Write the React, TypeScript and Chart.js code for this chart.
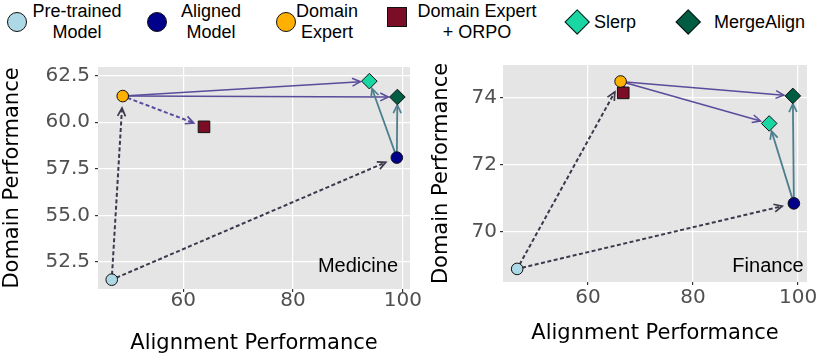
import React, { useEffect, useRef } from 'react';
import { Chart, registerables } from 'chart.js';

Chart.register(...registerables);

// ---- data ----
const modelNames = ['Pre-trained Model', 'Aligned Model', 'Domain Expert', 'Domain Expert + ORPO', 'Slerp', 'MergeAlign'];
const legendLines = [['Pre-trained', 'Model'], ['Aligned', 'Model'], ['Domain', 'Expert'], ['Domain Expert', '+ ORPO'], ['Slerp'], ['MergeAlign']];
const modelColors = ['#add8e6', '#00008b', '#ffb000', '#7b0d26', '#19d6a3', '#005c42'];
const modelShapes = ['circle', 'circle', 'circle', 'rect', 'rectRot', 'rectRot'];

const medicineAlignment = [47.0, 98.9, 49.0, 63.8, 93.9, 99.0];
const medicineDomain = [51.55, 58.1, 61.4, 59.75, 62.2, 61.35];
const financeAlignment = [46.5, 99.2, 66.2, 66.7, 94.5, 99.0];
const financeDomain = [68.9, 70.85, 74.48, 74.14, 73.23, 74.05];

const medicineXTicks = [60, 80, 100];
const medicineYTicks = [52.5, 55, 57.5, 60, 62.5];
const financeXTicks = [60, 80, 100];
const financeYTicks = [70, 72, 74];

const arrowFrom = [0, 0, 2, 2, 2, 1, 1];
const arrowTo = [2, 1, 3, 4, 5, 4, 5];
const arrowKinds = ['dashDark', 'dashDark', 'dashPurple', 'purple', 'purple', 'teal', 'teal'];

// ---- styles ----
const arrowStyles: Record<string, { color: string; width: number; dash: number[]; shrink: number }> = {
  dashDark: { color: '#3a3a4c', width: 2, dash: [4, 2.5], shrink: 12 },
  dashPurple: { color: '#5b4b9b', width: 2, dash: [4, 2.5], shrink: 11 },
  purple: { color: '#5b4b9b', width: 1.5, dash: [], shrink: 9 },
  teal: { color: '#4d7f8e', width: 1.8, dash: [], shrink: 8 },
};
const pointRadii: Record<string, number> = { circle: 5.8, rect: 8.2, rectRot: 7.8 };
const AXIS_FONT = "'DejaVu Sans', sans-serif";
const LABEL_FONT = "'Liberation Sans', Arial, Helvetica, sans-serif";

type PanelCfg = {
  xs: number[];
  ys: number[];
  xTicks: number[];
  yTicks: number[];
  xMin: number; xMax: number; yMin: number; yMax: number;
  yDecimals: number;
  label: string;
  labelRight: number; labelUp: number;
  padTop: number; padRight: number;
  yAxisWidth: number; yTitlePad: number; yTickPad: number;
  xAxisHeight: number; xTitlePad: number; xTickPad: number;
};

function makePanel(canvas: HTMLCanvasElement, cfg: PanelCfg) {
  const plugin = {
    id: 'panelDeco',
    beforeDraw(chart: any) {
      const { ctx, chartArea: a } = chart;
      ctx.save();
      ctx.fillStyle = '#e5e5e5';
      ctx.fillRect(a.left, a.top, a.right - a.left, a.bottom - a.top);
      ctx.restore();
    },
    beforeDatasetsDraw(chart: any) {
      const { ctx } = chart;
      const xs = chart.scales.x;
      const ys = chart.scales.y;
      ctx.save();
      for (let i = 0; i < arrowFrom.length; i++) {
        const s = arrowStyles[arrowKinds[i]];
        const f = arrowFrom[i];
        const t = arrowTo[i];
        const x0 = xs.getPixelForValue(cfg.xs[f]);
        const y0 = ys.getPixelForValue(cfg.ys[f]);
        const x1 = xs.getPixelForValue(cfg.xs[t]);
        const y1 = ys.getPixelForValue(cfg.ys[t]);
        const dx = x1 - x0;
        const dy = y1 - y0;
        const len = Math.hypot(dx, dy);
        if (len < 1) continue;
        const ux = dx / len;
        const uy = dy / len;
        const sx = x0 + ux * 5;
        const sy = y0 + uy * 5;
        const ex = x1 - ux * s.shrink;
        const ey = y1 - uy * s.shrink;
        ctx.strokeStyle = s.color;
        ctx.lineWidth = s.width;
        ctx.lineCap = 'butt';
        ctx.setLineDash(s.dash);
        ctx.beginPath();
        ctx.moveTo(sx, sy);
        ctx.lineTo(ex, ey);
        ctx.stroke();
        // open arrow head
        ctx.setLineDash([]);
        ctx.lineWidth = Math.min(s.width, 1.7);
        const ang = Math.atan2(ey - sy, ex - sx);
        const hl = 9;
        const ha = 0.45;
        ctx.beginPath();
        ctx.moveTo(ex - hl * Math.cos(ang - ha), ey - hl * Math.sin(ang - ha));
        ctx.lineTo(ex, ey);
        ctx.lineTo(ex - hl * Math.cos(ang + ha), ey - hl * Math.sin(ang + ha));
        ctx.stroke();
      }
      ctx.restore();
    },
    afterDatasetsDraw(chart: any) {
      const { ctx, chartArea: a } = chart;
      ctx.save();
      ctx.fillStyle = '#000';
      ctx.font = `20px ${LABEL_FONT}`;
      ctx.textAlign = 'right';
      ctx.textBaseline = 'middle';
      ctx.fillText(cfg.label, a.right - cfg.labelRight, a.bottom - cfg.labelUp);
      ctx.restore();
    },
  };

  const datasets = modelNames.map((name, i) => ({
    label: name,
    data: [{ x: cfg.xs[i], y: cfg.ys[i] }],
    pointStyle: modelShapes[i] as any,
    pointRadius: pointRadii[modelShapes[i]],
    pointBackgroundColor: modelColors[i],
    pointBorderColor: '#111',
    pointBorderWidth: 1,
    showLine: false,
  }));

  return new Chart(canvas, {
    type: 'scatter',
    data: { datasets },
    plugins: [plugin],
    options: {
      animation: false,
      responsive: false,
      events: [],
      layout: { padding: { top: cfg.padTop, right: cfg.padRight, left: 0, bottom: 0 } },
      plugins: { legend: { display: false }, tooltip: { enabled: false } },
      scales: {
        x: {
          type: 'linear',
          min: cfg.xMin,
          max: cfg.xMax,
          afterBuildTicks: (axis: any) => { axis.ticks = cfg.xTicks.map((v) => ({ value: v })); },
          afterFit: (scale: any) => { scale.height = cfg.xAxisHeight; },
          grid: { color: '#ffffff', lineWidth: 1.2, tickColor: '#333333', tickLength: 3, drawTicks: true },
          border: { display: false },
          ticks: {
            font: { family: AXIS_FONT, size: 20 },
            color: '#505050',
            padding: cfg.xTickPad,
            maxRotation: 0,
            autoSkip: false,
            callback: (v: any) => String(v),
          },
          title: {
            display: true,
            text: 'Alignment Performance',
            font: { family: AXIS_FONT, size: 21 },
            color: '#000',
            padding: { top: 0, bottom: cfg.xTitlePad },
          },
        },
        y: {
          type: 'linear',
          min: cfg.yMin,
          max: cfg.yMax,
          afterBuildTicks: (axis: any) => { axis.ticks = cfg.yTicks.map((v) => ({ value: v })); },
          afterFit: (scale: any) => { scale.width = cfg.yAxisWidth; },
          grid: { color: '#ffffff', lineWidth: 1.2, tickColor: '#333333', tickLength: 3, drawTicks: true },
          border: { display: false },
          ticks: {
            font: { family: AXIS_FONT, size: 20 },
            color: '#505050',
            padding: cfg.yTickPad,
            autoSkip: false,
            callback: (v: any) => Number(v).toFixed(cfg.yDecimals),
          },
          title: {
            display: true,
            text: 'Domain Performance',
            font: { family: AXIS_FONT, size: 21 },
            color: '#000',
            padding: { top: cfg.yTitlePad, bottom: 0 },
          },
        },
      },
    } as any,
  });
}

// ---- legend (HTML) ----
const legendMarkerX = [17, 157, 286, 397, 577, 688];
const legendMarkerY = [21.5, 21.5, 21.5, 16.5, 22, 22];
const legendTextX = [77, 211, 327, 477, 594, 714];

function LegendMarker({ i }: { i: number }) {
  const shape = modelShapes[i];
  const cx = legendMarkerX[i];
  const cy = legendMarkerY[i];
  const common: React.CSSProperties = {
    position: 'absolute',
    background: modelColors[i],
    border: '1px solid #111',
    boxSizing: 'border-box',
  };
  if (shape === 'circle') {
    return <div style={{ ...common, left: cx - 10, top: cy - 10, width: 20, height: 20, borderRadius: '50%' }} />;
  }
  if (shape === 'rect') {
    return <div style={{ ...common, left: cx - 10, top: cy - 10, width: 20, height: 20 }} />;
  }
  const side = 18.4;
  return (
    <div
      style={{
        ...common,
        left: cx - side / 2,
        top: cy - side / 2,
        width: side,
        height: side,
        transform: 'rotate(45deg)',
      }}
    />
  );
}

function Legend() {
  return (
    <div style={{ position: 'absolute', left: 0, top: 0, width: 824, height: 50 }}>
      {modelNames.map((_, i) => {
        const lines = legendLines[i];
        const twoLine = lines.length > 1;
        return (
          <React.Fragment key={i}>
            <LegendMarker i={i} />
            <div
              style={{
                position: 'absolute',
                left: legendTextX[i],
                top: twoLine ? 0.5 : legendMarkerY[i] - 10.5,
                transform: twoLine ? 'translateX(-50%)' : 'none',
                fontFamily: LABEL_FONT,
                fontSize: 18,
                lineHeight: '21px',
                textAlign: twoLine ? 'center' : 'left',
                whiteSpace: 'nowrap',
                color: '#000',
              }}
            >
              {lines.map((l, k) => (
                <div key={k}>{l}</div>
              ))}
            </div>
          </React.Fragment>
        );
      })}
    </div>
  );
}

export default function App() {
  const leftRef = useRef<HTMLCanvasElement>(null);
  const rightRef = useRef<HTMLCanvasElement>(null);

  useEffect(() => {
    const left = makePanel(leftRef.current!, {
      xs: medicineAlignment,
      ys: medicineDomain,
      xTicks: medicineXTicks,
      yTicks: medicineYTicks,
      xMin: 44.5, xMax: 101.3, yMin: 51.05, yMax: 62.96,
      yDecimals: 1,
      label: 'Medicine',
      labelRight: 12, labelUp: 23,
      padTop: 7, padRight: 20,
      yAxisWidth: 98, yTitlePad: 0, yTickPad: 5,
      xAxisHeight: 73, xTitlePad: 6, xTickPad: -3.5,
    });
    const right = makePanel(rightRef.current!, {
      xs: financeAlignment,
      ys: financeDomain,
      xTicks: financeXTicks,
      yTicks: financeYTicks,
      xMin: 43.8, xMax: 101.7, yMin: 68.51, yMax: 74.97,
      yDecimals: 0,
      label: 'Finance',
      labelRight: 3.5, labelUp: 15.6,
      padTop: 7, padRight: 17,
      yAxisWidth: 87, yTitlePad: 13, yTickPad: 3,
      xAxisHeight: 80, xTitlePad: 16, xTickPad: 0.5,
    });
    return () => {
      left.destroy();
      right.destroy();
    };
  }, []);

  return (
    <div style={{ position: 'absolute', left: 0, top: 0, width: 824, height: 362, background: '#fff', overflow: 'hidden' }}>
      <Legend />
      <canvas ref={leftRef} width={430} height={312} style={{ position: 'absolute', left: 0, top: 50 }} />
      <canvas ref={rightRef} width={408} height={312} style={{ position: 'absolute', left: 416, top: 50 }} />
    </div>
  );
}
